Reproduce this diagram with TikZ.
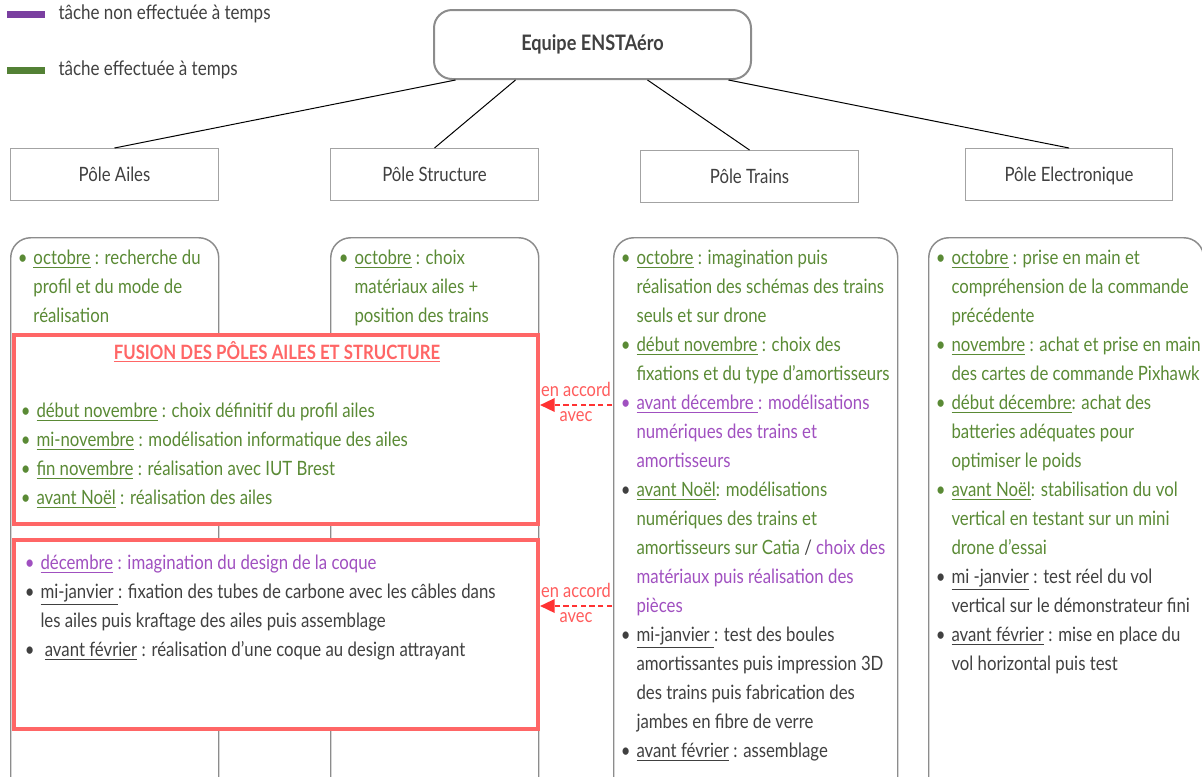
\documentclass[tikz,border=0pt]{standalone}
\usepackage{fontspec}
\setmainfont{Lato}[FakeStretch=0.85]
\usetikzlibrary{arrows.meta}

\definecolor{okgreen}{HTML}{5A8A35}
\definecolor{latepurple}{HTML}{A050C0}
\definecolor{barpurple}{HTML}{7A3FA0}
\definecolor{bargreen}{HTML}{538135}
\definecolor{txtgray}{HTML}{404040}
\definecolor{boxgray}{HTML}{8C8C8C}
\definecolor{fusionred}{HTML}{FF6666}
\definecolor{accordred}{HTML}{FF3333}

% bullets, dates, colours of the tasks
\newcommand{\itm}[1]{\llap{\textcolor{#1}{\textbullet}\hspace{4.5pt}}}
\newcommand{\dt}[1]{\underline{#1}}
\newcommand{\gr}[1]{\textcolor{okgreen}{#1}}
\newcommand{\pu}[1]{\textcolor{latepurple}{#1}}
\newcommand{\dk}[1]{\textcolor{txtgray}{#1}}

\tikzset{every picture/.style={line width=0.75pt}}
\tikzset{
  pole/.style={draw=boxgray!80, fill=white, inner sep=0pt, anchor=north west, minimum height=39pt, text height=12.5pt, text depth=1.5pt, text=txtgray, font=\fontsize{14.8}{16}\selectfont},
  colbox/.style={draw=boxgray, line width=1.1pt, rounded corners=15pt, anchor=north west, minimum height=420pt, inner sep=0pt},
  fusionbox/.style={draw=fusionred, line width=3pt, fill=white, anchor=north west, minimum width=393pt, minimum height=141.75pt, inner sep=0pt},
  coltext/.style={anchor=north west, align=left, inner sep=0pt, font=\fontsize{14.8}{21.75}\selectfont},
  accord/.style={draw=accordred, line width=1.8pt, dash pattern=on 4pt off 2.5pt, -{Triangle[length=11pt,width=10pt]}},
  accordlbl/.style={text=accordred!80, inner sep=0pt, font=\fontsize{14.5}{16}\selectfont}
}

\begin{document}
\begin{tikzpicture}[x=0.75pt,y=0.75pt,yscale=-1,xscale=1]
\clip (0,0) rectangle (1202,776);

% legend
\fill[barpurple] (7,11) rectangle (45,18);
\node[anchor=west, inner sep=0pt, text=txtgray, font=\fontsize{15}{16}\selectfont] (leglate) at (58,14) {tâche non effectuée à temps};
\fill[bargreen] (7,67) rectangle (45,74);
\node[anchor=west, inner sep=0pt, text=txtgray, font=\fontsize{15}{16}\selectfont] (legok) at (58,70) {tâche effectuée à temps};

% team and poles
\node[draw=boxgray, line width=1.5pt, rounded corners=13.5pt, anchor=north west, minimum width=237.75pt, minimum height=51.75pt, text=txtgray, font=\bfseries\fontsize{16}{18}\selectfont] (equipe) at (433,9) {Equipe ENSTAéro};
\node[pole, minimum width=156pt] (ailes) at (10,148) {Pôle Ailes};
\node[pole, minimum width=156pt] (structure) at (330,148) {Pôle Structure};
\node[pole, minimum width=163.5pt] (trains) at (640,150) {Pôle Trains};
\node[pole, minimum width=155.25pt] (electro) at (965,148) {Pôle Electronique};

\draw ([xshift=-102.75pt]equipe.south) -- (ailes.north);
\draw ([xshift=-57.75pt]equipe.south) -- (structure.north);
\draw ([xshift=41.25pt]equipe.south) -- (trains.north);
\draw ([xshift=102pt]equipe.south) -- (electro.north);

% columns
\node[colbox, minimum width=156pt] (colailes) at (10,237) {};
\node[colbox, minimum width=156pt] (colstruct) at (330,237) {};
\node[colbox, minimum width=213pt] (coltrains) at (613,237) {};
\node[colbox, minimum width=206.25pt] (colelec) at (928,237) {};

% merged wings + structure
\node[fusionbox] (fusion) at (12,333) {};
\node[fusionbox] (coque) at (12,538) {};

\node[text=fusionred, inner sep=0pt, font=\bfseries\fontsize{14.8}{16}\selectfont] (fusiontitle) at (277,352) {\underline{FUSION DES PÔLES AILES ET STRUCTURE}};

\node[coltext] (ailestxt) at (33,244) {%
\strut\itm{okgreen}\gr{\dt{octobre} : recherche du}\\
\gr{profil et du mode de}\\
\gr{réalisation}};

\node[coltext] (structtxt) at (354,244) {%
\strut\itm{okgreen}\gr{\dt{octobre} : choix}\\
\gr{matériaux ailes +}\\
\gr{position des trains}};

\node[coltext] (fusiontxt) at (36,397) {%
\strut\itm{okgreen}\gr{\dt{début novembre} : choix définitif du profil ailes}\\
\itm{okgreen}\gr{\dt{mi-novembre} : modélisation informatique des ailes}\\
\itm{okgreen}\gr{\dt{fin novembre} : réalisation avec IUT Brest}\\
\itm{okgreen}\gr{\dt{avant Noël} : réalisation des ailes}};

\node[coltext] (coquetxt) at (40,549) {%
\strut\itm{latepurple}\pu{\dt{décembre} : imagination du design de la coque}\\
\itm{txtgray}\dk{\dt{mi-janvier\ }: fixation des tubes de carbone avec les câbles dans}\\
\dk{les ailes puis kraftage des ailes puis assemblage}\\
\itm{txtgray}\dk{\ \dt{avant février} : réalisation d’une coque au design attrayant}};

\node[coltext] (trainstxt) at (636,244) {%
\strut\itm{okgreen}\gr{\dt{octobre} : imagination puis}\\
\gr{réalisation des schémas des trains}\\
\gr{seuls et sur drone}\\
\itm{okgreen}\gr{\dt{début novembre} : choix des}\\
\gr{fixations et du type d’amortisseurs}\\
\itm{latepurple}\pu{\dt{avant décembre\ }: modélisations}\\
\pu{numériques des trains et}\\
\pu{amortisseurs}\\
\itm{txtgray}\gr{\dt{avant Noël}: modélisations}\\
\gr{numériques des trains et}\\
\gr{amortisseurs sur Catia} \dk{/} \pu{choix des}\\
\pu{matériaux puis réalisation des}\\
\pu{pièces}\\
\itm{txtgray}\dk{\dt{mi-janvier\ }: test des boules}\\
\dk{amortissantes puis impression 3D}\\
\dk{des trains puis fabrication des}\\
\dk{jambes en fibre de verre}\\
\itm{txtgray}\dk{\dt{avant février} : assemblage}};

\node[coltext] (electxt) at (951,244) {%
\strut\itm{okgreen}\gr{\dt{octobre} : prise en main et}\\
\gr{compréhension de la commande}\\
\gr{précédente}\\
\itm{okgreen}\gr{\dt{novembre} : achat et prise en main}\\
\gr{des cartes de commande Pixhawk}\\
\itm{okgreen}\gr{\dt{début décembre}: achat des}\\
\gr{batteries adéquates pour}\\
\gr{optimiser le poids}\\
\itm{okgreen}\gr{\dt{avant Noël}: stabilisation du vol}\\
\gr{vertical en testant sur un mini}\\
\gr{drone d’essai}\\
\itm{txtgray}\dk{\dt{mi -janvier} : test réel du vol}\\
\dk{vertical sur le démonstrateur fini}\\
\itm{txtgray}\dk{\dt{avant février} : mise en place du}\\
\dk{vol horizontal puis test}};

% agreements between trains and the merged pole
\coordinate (acc1) at (612,405);
\coordinate (acc2) at (612,606);
\draw[accord] (acc1) -- (acc1 -| fusion.east) node[accordlbl, midway, above=5pt] {en accord} node[accordlbl, midway, below=4pt] {avec};
\draw[accord] (acc2) -- (acc2 -| coque.east) node[accordlbl, midway, above=5pt] {en accord} node[accordlbl, midway, below=4pt] {avec};

\end{tikzpicture}
\end{document}
